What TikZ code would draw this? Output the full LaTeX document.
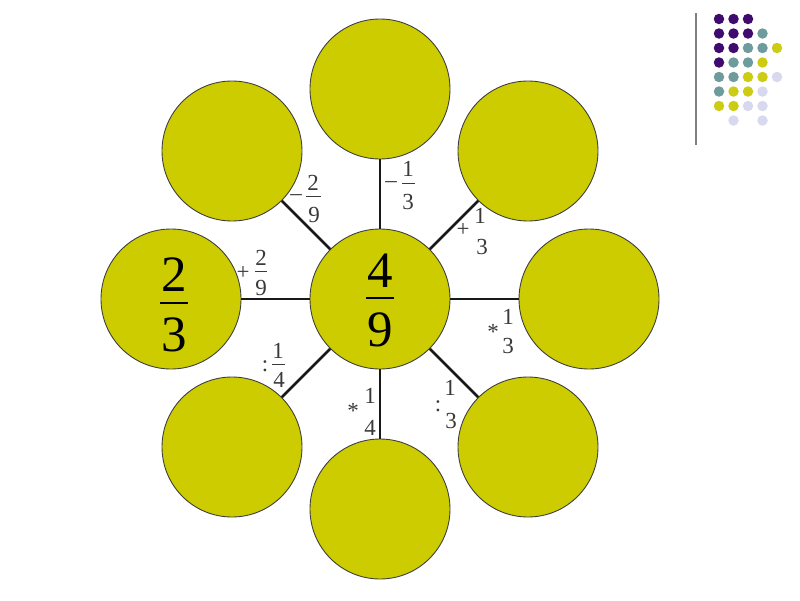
\documentclass[tikz,border=0pt]{standalone}
\usepackage{fontspec}
\setmainfont{Liberation Serif}
\definecolor{petal}{HTML}{CCCC00}
\definecolor{dpurp}{HTML}{3F0B6E}
\definecolor{dteal}{HTML}{6E9C9C}
\definecolor{dyel}{HTML}{CCCC14}
\definecolor{dlav}{HTML}{D8D8EE}
\definecolor{lblc}{HTML}{3A3A3A}
\tikzset{
  flower/.style={circle, minimum size=140pt, inner sep=0pt, draw=black!75, line width=0.9pt, fill=petal},
  link/.style={line width=2.6pt, black!90},
  sm/.style={anchor=base, inner sep=0pt, text=lblc, font=\fontsize{23}{23}\selectfont},
  big/.style={anchor=base, inner sep=0pt, text=black, font=\fontsize{51}{51}\selectfont},
  sbar/.style={line width=0.8pt, lblc},
  bbar/.style={line width=1.3pt, black},
  dot/.style={circle, minimum size=10.5pt, inner sep=0pt, draw=none}
}
\begin{document}
\begin{tikzpicture}[x=1pt, y=-1pt]
\useasboundingbox (0,0) rectangle (800,600);
% petals
\node[flower] (c) at (380,299) {};
\node[flower] (t) at (380,89) {};
\node[flower] (b) at (380,509) {};
\node[flower] (l) at (171,299) {};
\node[flower] (r) at (589,299) {};
\node[flower] (ul) at (232,151) {};
\node[flower] (ur) at (528,151) {};
\node[flower] (ll) at (232,447) {};
\node[flower] (lr) at (528,447) {};
% connectors
\foreach \p in {t,b,l,r,ul,ur,ll,lr} \draw[link] (c) -- (\p);
% big fractions
\node[big] (n4) at (380,287) {4};
\draw[bbar] (366,298) -- (394,298);
\node[big] (d9) at (380,346) {9};
\node[big] (n2) at (174,291) {2};
\draw[bbar] (160,303) -- (188,303);
\node[big] (d3) at (174,351) {3};
% labels
% -2/9
\node[sm] (m1) at (296,200) {–};
\draw[sbar] (306,196) -- (321,196);
\node[sm] (m1n) at (313,190) {2};
\node[sm] (m1d) at (314,222) {9};
% -1/3
\node[sm] (m2) at (391,187) {–};
\draw[sbar] (402,183) -- (415,183);
\node[sm] (m2n) at (408,176) {1};
\node[sm] (m2d) at (408,209) {3};
% +1/3
\node[sm] (p1) at (463,236) {+};
\node[sm] (p1n) at (480,223) {1};
\node[sm] (p1d) at (482,254) {3};
% +2/9
\node[sm] (p2) at (243,279) {+};
\draw[sbar] (255,271) -- (267,271);
\node[sm] (p2n) at (261,265) {2};
\node[sm] (p2d) at (261,295) {9};
% *1/3
\node[sm] (s1) at (493,339) {*};
\node[sm] (s1n) at (508,324) {1};
\node[sm] (s1d) at (508,353) {3};
% :1/4
\node[sm] (q1) at (265,371) {:};
\draw[sbar] (272,364) -- (285,364);
\node[sm] (q1n) at (278,358) {1};
\node[sm] (q1d) at (279,387) {4};
% *1/4
\node[sm] (s2) at (353,418) {*};
\node[sm] (s2n) at (370,403) {1};
\node[sm] (s2d) at (370,435) {4};
% :1/3
\node[sm] (q2) at (438,411) {:};
\node[sm] (q2n) at (450,395) {1};
\node[sm] (q2d) at (451,428) {3};
% decoration: rule and dot grid
\draw[line width=2pt, black!50] (696,13) -- (696,145);
\foreach \row/\cols in {
  1/{1/dpurp,2/dpurp,3/dpurp},
  2/{1/dpurp,2/dpurp,3/dpurp,4/dteal},
  3/{1/dpurp,2/dpurp,3/dteal,4/dteal,5/dyel},
  4/{1/dpurp,2/dteal,3/dteal,4/dyel},
  5/{1/dteal,2/dteal,3/dyel,4/dyel,5/dlav},
  6/{1/dteal,2/dyel,3/dyel,4/dlav},
  7/{1/dyel,2/dyel,3/dlav,4/dlav},
  8/{2/dlav,4/dlav}} {
  \foreach \col/\clr in \cols {
    \node[dot, fill=\clr] (g\row-\col) at ({719+14.5*(\col-1)},{19+14.5*(\row-1)}) {};
  }
}
\end{tikzpicture}
\end{document}
